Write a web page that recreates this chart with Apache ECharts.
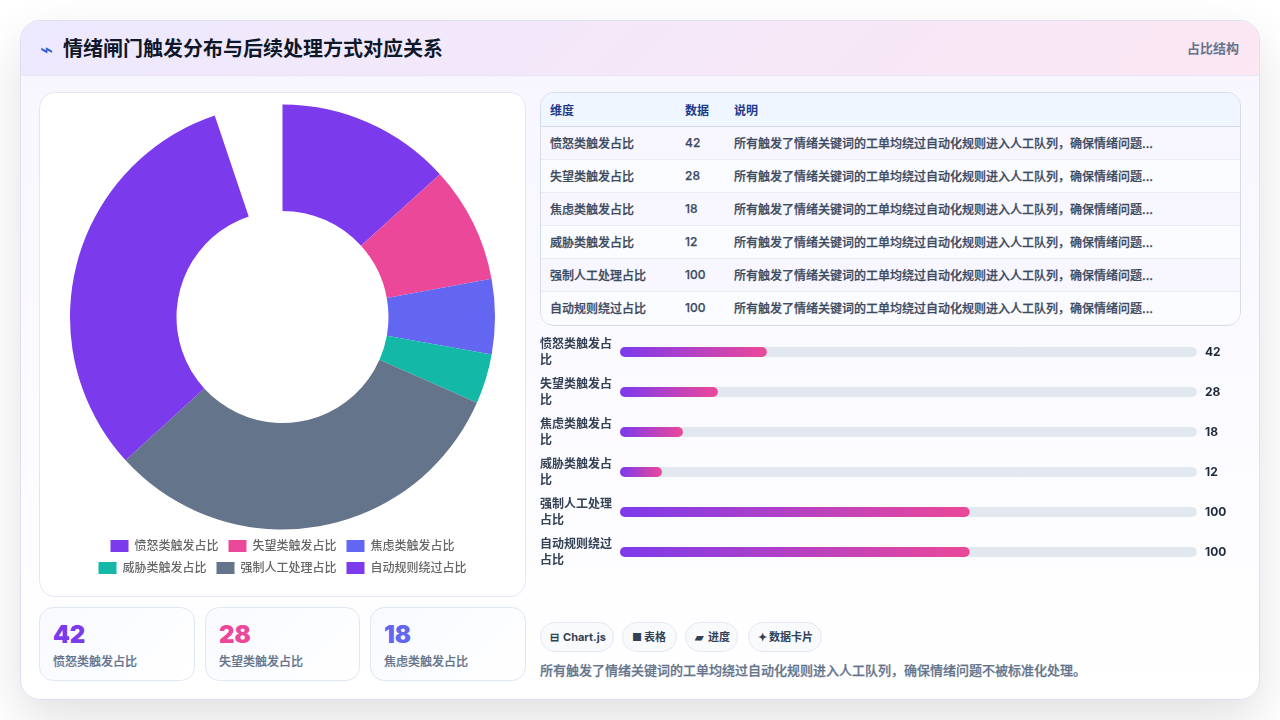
<!DOCTYPE html>
<html lang="zh"><head><meta charset="utf-8">
<script src="https://cdn.jsdelivr.net/npm/echarts@6/dist/echarts.min.js"></script>
<style>
*{box-sizing:border-box;margin:0;padding:0}
html,body{width:1280px;height:720px;overflow:hidden;background:#fff;font-family:Inter,"Noto Sans CJK SC",sans-serif}
#card{position:absolute;left:20px;top:20px;width:1240px;height:680px;border-radius:20px;border:1px solid #e0e0f5;background:linear-gradient(180deg,#f7f5ff 0%,#fbfaff 50%,#ffffff 100%);box-shadow:0 20px 50px rgba(0,0,0,.12);overflow:hidden}
#head{position:absolute;left:0;top:0;width:100%;height:55px;background:linear-gradient(135deg,#ede9fe,#fce7f3);border-bottom:1px solid #e9e5f8}
#icon{position:absolute;left:19px;top:19px;font-family:"DejaVu Sans",sans-serif;font-size:22px;line-height:20px;color:#2f5fd8}
#title{position:absolute;left:42px;top:13px;font-size:20px;line-height:30px;font-weight:700;color:#0f172a;white-space:nowrap}
#tag{position:absolute;right:20px;top:17px;font-size:13px;line-height:20px;font-weight:600;color:#64748b}
#panel{position:absolute;left:18px;top:71px;width:487px;height:505px;background:#fff;border:1px solid #e5e7f5;border-radius:16px}
#pie{position:absolute;left:0;top:0;width:485px;height:503px}
.stat{position:absolute;top:586px;height:74px;border:1px solid #e0e7f5;border-radius:14px;background:linear-gradient(135deg,#f8faff,#ffffff)}
.stat b{position:absolute;left:13px;top:11px;font-size:24px;line-height:32px;font-weight:900}
.stat span{position:absolute;left:13px;top:45px;font-size:12px;line-height:18px;font-weight:500;color:#64748b;white-space:nowrap;-webkit-text-stroke:.2px #64748b}
#tw{position:absolute;left:519px;top:71px;width:701px;height:234px;border:1px solid #d5dbe8;border-radius:14px;overflow:hidden}
table{border-collapse:collapse;width:100%;table-layout:fixed;font-size:12px}
th{height:33px;background:#eff6ff;color:#1e3a8a;font-weight:600;text-align:left;padding:0 9px;border-bottom:1px solid #d5dbe8}
td{height:33px;color:#3b4a60;font-weight:500;-webkit-text-stroke:.25px #3b4a60;padding:0 9px;border-bottom:1px solid #e8ecf3;white-space:nowrap;overflow:hidden}
tr:nth-child(odd) td{background:#f8f7ff}
tr:nth-child(even) td{background:#fbfcff}
tr:last-child td{border-bottom:none}
#bars{position:absolute;left:519px;top:311px;width:700px;height:240px}
.chip{position:absolute;top:601px;height:30px;border:1px solid #e5e9f2;border-radius:15px;background:#f8fafc;font-size:11px;line-height:28px;font-weight:700;color:#334155;padding-left:9px;white-space:nowrap}
.chip i{display:inline-block;font-style:normal}
#note{position:absolute;left:519px;top:639px;font-size:13px;line-height:20px;font-weight:500;color:#64748b;white-space:nowrap;-webkit-text-stroke:.25px #64748b}
</style></head><body>
<div id="card">
 <div id="head"><div id="icon">⌁</div><div id="title"></div><div id="tag"></div></div>
 <div id="panel"><div id="pie"></div></div>
 <div id="stats"></div>
 <div id="tw"><table><colgroup><col style="width:135px"><col style="width:49px"><col></colgroup><thead id="th"></thead><tbody id="tb"></tbody></table></div>
 <div id="bars"></div>
 <div id="chips"></div>
 <div id="note"></div>
</div>
<script>
const titleText = "情绪闸门触发分布与后续处理方式对应关系";
const tagText = "占比结构";
const categories = ["愤怒类触发占比","失望类触发占比","焦虑类触发占比","威胁类触发占比","强制人工处理占比","自动规则绕过占比"];
const values = [42,28,18,12,100,100];
const colors = ["#7c3aed","#ec4899","#6366f1","#14b8a6","#64748b","#7c3aed"];
const tableHeaders = ["维度","数据","说明"];
const noteShort = "所有触发了情绪关键词的工单均绕过自动化规则进入人工队列，确保情绪问题...";
const noteFull = "所有触发了情绪关键词的工单均绕过自动化规则进入人工队列，确保情绪问题不被标准化处理。";
const chipIcons = ["⊟","■","▰","✦"];
const chipTexts = ["Chart.js","表格","进度","数据卡片"];
const chipIconW = [13,12,13,11];
const chipX = [519,601,664,727];
const chipW = [74,55,53,74];
const statX = [18,184,349];
const statW = [156,155,156];

document.getElementById('title').textContent = titleText;
document.getElementById('tag').textContent = tagText;
document.getElementById('note').textContent = noteFull;
document.getElementById('th').innerHTML = '<tr>'+tableHeaders.map(h=>'<th>'+h+'</th>').join('')+'</tr>';
document.getElementById('tb').innerHTML = categories.map((c,i)=>'<tr><td>'+c+'</td><td>'+values[i]+'</td><td>'+noteShort+'</td></tr>').join('');
document.getElementById('stats').innerHTML = [0,1,2].map(i=>'<div class="stat" style="left:'+statX[i]+'px;width:'+statW[i]+'px"><b style="color:'+colors[i]+'">'+values[i]+'</b><span>'+categories[i]+'</span></div>').join('');
document.getElementById('chips').innerHTML = chipTexts.map((c,i)=>'<div class="chip" style="left:'+chipX[i]+'px;width:'+chipW[i]+'px"><i style="width:'+chipIconW[i]+'px">'+chipIcons[i]+'</i>'+c+'</div>').join('');

const uiFont = 'Inter,"Noto Sans CJK SC",sans-serif';
const legendBase = {orient:'horizontal',left:'center',itemWidth:18,itemHeight:12,itemGap:10,icon:'rect',
  textStyle:{color:'#666',fontSize:12,fontWeight:500,fontFamily:uiFont,padding:[0,0,0,1]}};
const pie = echarts.init(document.getElementById('pie'),null,{renderer:'canvas'});
pie.setOption({
  animation:false,
  color:colors,
  legend:[
    Object.assign({},legendBase,{top:442,data:categories.slice(0,3)}),
    Object.assign({},legendBase,{top:464,data:categories.slice(3)})
  ],
  series:[{type:'pie',center:[242.5,224],radius:[106,212.5],startAngle:90,endAngle:-251.4,clockwise:true,
    label:{show:false},labelLine:{show:false},silent:true,
    data:categories.map((c,i)=>({name:c,value:values[i]}))}]
});

const bars = echarts.init(document.getElementById('bars'),null,{renderer:'canvas'});
bars.setOption({
  animation:false,
  grid:{left:80,right:43,top:0,bottom:0,containLabel:false,outerBoundsMode:'none'},
  xAxis:{type:'value',min:0,max:165,show:false},
  yAxis:[
   {type:'category',inverse:true,data:categories,axisLine:{show:false},axisTick:{show:false},
    axisLabel:{margin:80,align:'left',width:74,overflow:'breakAll',lineHeight:16,fontSize:12,fontWeight:600,color:'#334155',fontFamily:uiFont,padding:[4,0,0,0]}},
   {type:'category',inverse:true,position:'right',data:values,axisLine:{show:false},axisTick:{show:false},
    axisLabel:{margin:8,align:'left',fontSize:12,fontWeight:700,color:'#1e293b',fontFamily:uiFont,padding:[2,0,0,0]}}
  ],
  series:[{type:'bar',yAxisIndex:0,barWidth:10,data:values,showBackground:true,
    backgroundStyle:{color:'#e2e8f0',borderRadius:5},
    itemStyle:{borderRadius:5,color:new echarts.graphic.LinearGradient(0,0,1,0,[{offset:0,color:'#7c3aed'},{offset:1,color:'#ec4899'}])}}]
});
</script></body></html>
